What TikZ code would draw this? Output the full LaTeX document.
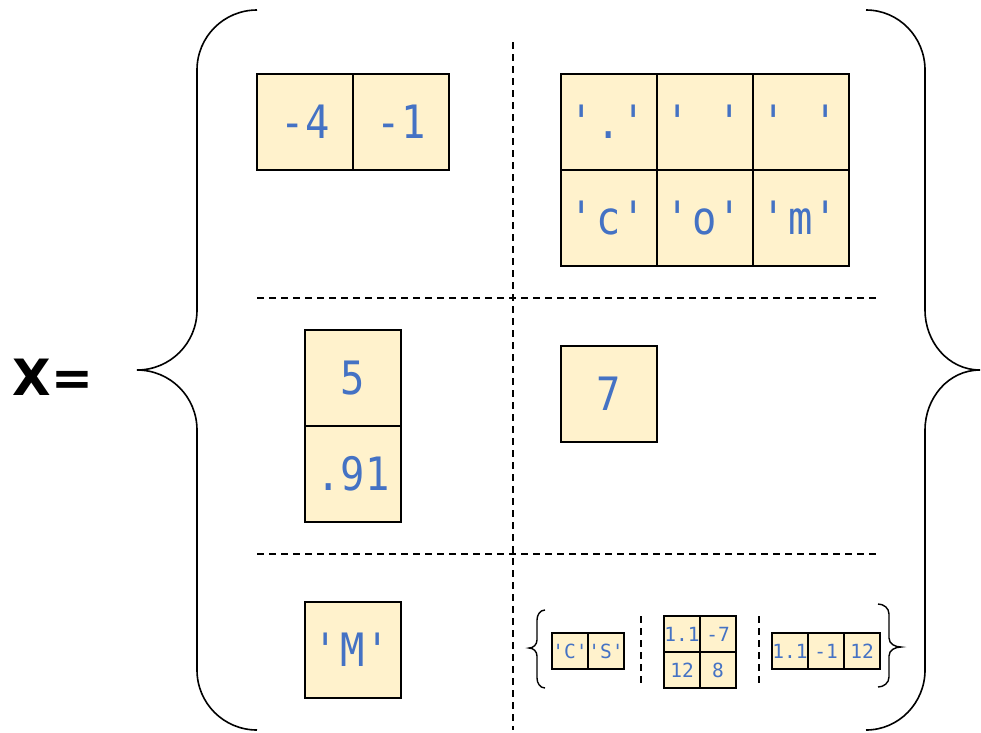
\documentclass[tikz,border=0pt]{standalone}
\usepackage{fontspec}
\usepackage{xcolor}
\usepackage{tikz}
\newfontfamily\codefont[FakeStretch=0.88]{DejaVu Sans Mono}
\newfontfamily\plaincode{DejaVu Sans Mono}
\newfontfamily\eqfont{DejaVu Sans}
\newcommand{\bigcode}{\codefont\fontsize{46}{46}\selectfont}
\newcommand{\smallcode}{\plaincode\fontsize{19.5}{19.5}\selectfont}
\newcommand{\qt}[1]{\textquotesingle#1\textquotesingle}
\definecolor{cellfill}{HTML}{FFF2CC}
\definecolor{txtblue}{HTML}{4472C4}

\begin{document}
\begin{tikzpicture}[x=1pt, y=-1pt, line width=1.6pt]
  \tikzset{cell/.style={draw, fill=cellfill, text=txtblue, font=\bigcode, minimum size=96pt, inner sep=0pt},
    tiny/.style={cell, font=\smallcode, minimum size=36pt}, sep/.style={dashed, line width=1.2pt, dash pattern=on 7pt off 5pt}}
  \useasboundingbox (0,0) rectangle (981,732);
  \node[font=\eqfont\bfseries\fontsize{50}{50}\selectfont] (lhs) at (53,377) {X=};
  % outer braces
  \draw (257,10) to[out=180,in=90] (197,70) -- (197,310) to[out=-90,in=0] (137,370)
    to[out=0,in=90] (197,430) -- (197,670) to[out=-90,in=180] (257,730);
  \draw (866,10) to[out=0,in=90] (925,70) -- (925,310) to[out=-90,in=180] (980,370)
    to[out=180,in=90] (925,430) -- (925,670) to[out=-90,in=0] (866,730);
  \draw[sep] (513,42) -- (513,730);
  \draw[sep] (257,298) -- (880,298); \draw[sep] (257,554) -- (880,554);
  % row 1
  \node[cell] (a1) at (305,122) {-4}; \node[cell] (a2) at (401,122) {-1};
  \node[cell] (b11) at (609,122) {\qt{.}}; \node[cell] (b12) at (705,122) {\qt{\ }};
  \node[cell] (b13) at (801,122) {\qt{\ }};
  \node[cell] (b21) at (609,218) {\qt{c}}; \node[cell] (b22) at (705,218) {\qt{o}};
  \node[cell] (b23) at (801,218) {\qt{m}};
  % row 2
  \node[cell] (c1) at (353,378) {5}; \node[cell] (c2) at (353,474) {.91};
  \node[cell] (d1) at (609,394) {7};
  % row 3
  \node[cell] (e1) at (353,650) {\qt{M}};
  \draw[line width=1.4pt] (545,610) to[out=180,in=90] (537,620) -- (537,640) to[out=-90,in=0] (529,648)
    to[out=0,in=90] (537,656) -- (537,678) to[out=-90,in=180] (545,688);
  \node[tiny] (f1) at (570,651) {\qt{C}}; \node[tiny] (f2) at (606,651) {\qt{S}};
  \draw[sep] (641,616) -- (641,687);
  \node[tiny] (g11) at (682,634) {1.1}; \node[tiny] (g12) at (718,634) {-7};
  \node[tiny] (g21) at (682,670) {12}; \node[tiny] (g22) at (718,670) {8};
  \draw[sep] (759,616) -- (759,687);
  \node[tiny] (h1) at (790,651) {1.1}; \node[tiny] (h2) at (826,651) {-1};
  \node[tiny] (h3) at (862,651) {12};
  \draw[line width=1.4pt] (878,604) to[out=0,in=90] (889,614) -- (889,638) to[out=-90,in=180] (901,647)
    to[out=180,in=90] (889,656) -- (889,677) to[out=-90,in=0] (878,687);
\end{tikzpicture}
\end{document}
